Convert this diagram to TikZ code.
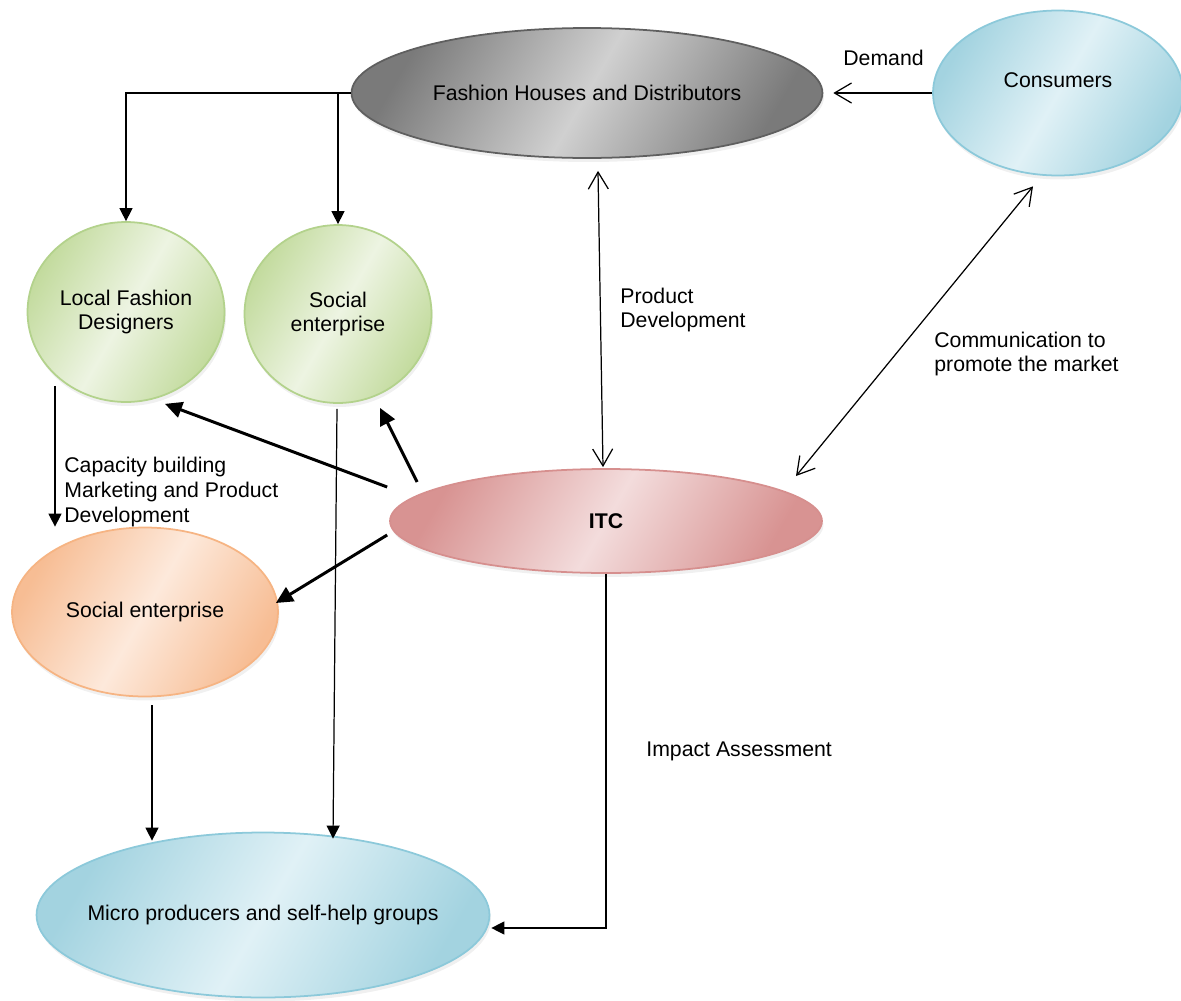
\documentclass[tikz,border=0pt]{standalone}
\usepackage{fontspec}
\setmainfont{Liberation Sans}
\usetikzlibrary{shapes.geometric,arrows.meta,calc,shadows}
\definecolor{greyedge}{HTML}{7A7A7A}
\definecolor{greymid}{HTML}{D0D0D0}
\definecolor{greyline}{HTML}{5F5F5F}
\definecolor{blueedge}{HTML}{A3D3E0}
\definecolor{bluemid}{HTML}{E0F1F6}
\definecolor{blueline}{HTML}{8CC9DA}
\definecolor{greenedge}{HTML}{C3DB9E}
\definecolor{greenmid}{HTML}{EDF4E2}
\definecolor{greenline}{HTML}{B3D28C}
\definecolor{rededge}{HTML}{D89392}
\definecolor{redmid}{HTML}{F3DCDC}
\definecolor{redline}{HTML}{D68F8E}
\definecolor{orangeedge}{HTML}{F7BD94}
\definecolor{orangemid}{HTML}{FDE9DB}
\definecolor{orangeline}{HTML}{F6B483}

\begin{document}
\begin{tikzpicture}[x=0.02cm,y=-0.02cm,
			font=\fontsize{12.1}{14.2}\selectfont,
			ell/.style={ellipse,inner sep=0pt,align=center,line width=1pt,
				drop shadow={opacity=0.12,shadow xshift=0.03cm,shadow yshift=-0.08cm}},
			greyell/.style={ell,draw=greyline,left color=greyedge,right color=greyedge,middle color=greymid,shading angle=60},
			blueell/.style={ell,draw=blueline,left color=blueedge,right color=blueedge,middle color=bluemid,shading angle=60},
			greenell/.style={ell,draw=greenline,left color=greenedge,right color=greenedge,middle color=greenmid,shading angle=60},
			redell/.style={ell,draw=redline,left color=rededge,right color=rededge,middle color=redmid,shading angle=60},
			orangeell/.style={ell,draw=orangeline,left color=orangeedge,right color=orangeedge,middle color=orangemid,shading angle=60},
			note/.style={anchor=west,inner sep=0pt,align=left},
			lineto/.style={line width=0.7pt,-{Triangle[length=0.26cm,width=0.26cm]}},
			boldto/.style={line width=1.7pt,-{Triangle[length=0.34cm,width=0.32cm]}},
			oneway/.style={line width=0.7pt,-{Straight Barb[length=0.34cm,width=0.4cm]}},
			twoway/.style={line width=0.7pt,{Straight Barb[length=0.34cm,width=0.4cm]}-{Straight Barb[length=0.34cm,width=0.4cm]}}]
			\useasboundingbox (0,0) rectangle (1181,1001);
			\node[greyell,minimum width=9.42cm,minimum height=2.6cm] (fhd) at (587,93) {\makebox[0pt]{Fashion Houses and Distributors}};
			\node[blueell,minimum width=5cm,minimum height=3.3cm,label={[yshift=0.26cm]center:Consumers}] (cons) at (1058,93) {};
			\node[greenell,minimum width=3.94cm,minimum height=3.6cm] (lfd) at (126,312) {Local Fashion\\Designers};
			\node[greenell,minimum width=3.74cm,minimum height=3.56cm] (se1) at (338,314) {Social\\enterprise};
			\node[redell,minimum width=8.64cm,minimum height=2.08cm] (itc) at (606,521) {\bfseries ITC};
			\node[orangeell,minimum width=5.32cm,minimum height=3.38cm] (se2) at (145,612) {Social enterprise};
			\node[blueell,minimum width=9.06cm,minimum height=3.3cm] (mp) at (263,915) {\makebox[0pt]{Micro producers and self-help groups}};
			\draw[lineto] (fhd.west) -| (lfd.north);
			\draw[lineto] (fhd.west -| se1.north) -- (se1.north);
			\draw[oneway,shorten >=0.2cm] (cons.west) -- (fhd.east);
			\draw[twoway] ($(fhd.south)+(11,12)$) -- ($(itc.north)+(-3,-1)$);
			\draw[twoway] ($(cons.south)+(-25,10)$) -- ($(itc.center)+(190,-45)$);
			\draw[boldto] ($(itc.west)+(-2,-34)$) -- ($(lfd.south)+(39,1)$);
			\draw[boldto] ($(itc.west)+(28,-39)$) -- ($(se1.south)+(42,4)$);
			\draw[boldto] ($(itc.west)+(-2,14)$) -- ($(se2.east)+(-3,-9)$);
			\draw[lineto] ($(lfd.south)+(-71,-17)$) -- ($(se2.north)+(-90,0)$);
			\draw[lineto] ($(se1.south)+(-1,5)$) -- ($(mp.north)+(70,7)$);
			\draw[lineto] ($(se2.south)+(7,8)$) -- ($(mp.north)+(-111,9)$);
			\draw[lineto] (itc.south) |- ($(mp.east)+(1,13)$);
			\node[note] (demand) at (843,58) {Demand};
			\node[note] (prod) at (620,310) {Product\\Development};
			\node[note] (comm) at (934,354) {Communication to\\promote the market};
			\node[note] (cap) at (64,492) {Capacity building\\Marketing and Product\\Development};
			\node[note] (impact) at (646,751) {Impact Assessment};
		\end{tikzpicture}
\end{document}
